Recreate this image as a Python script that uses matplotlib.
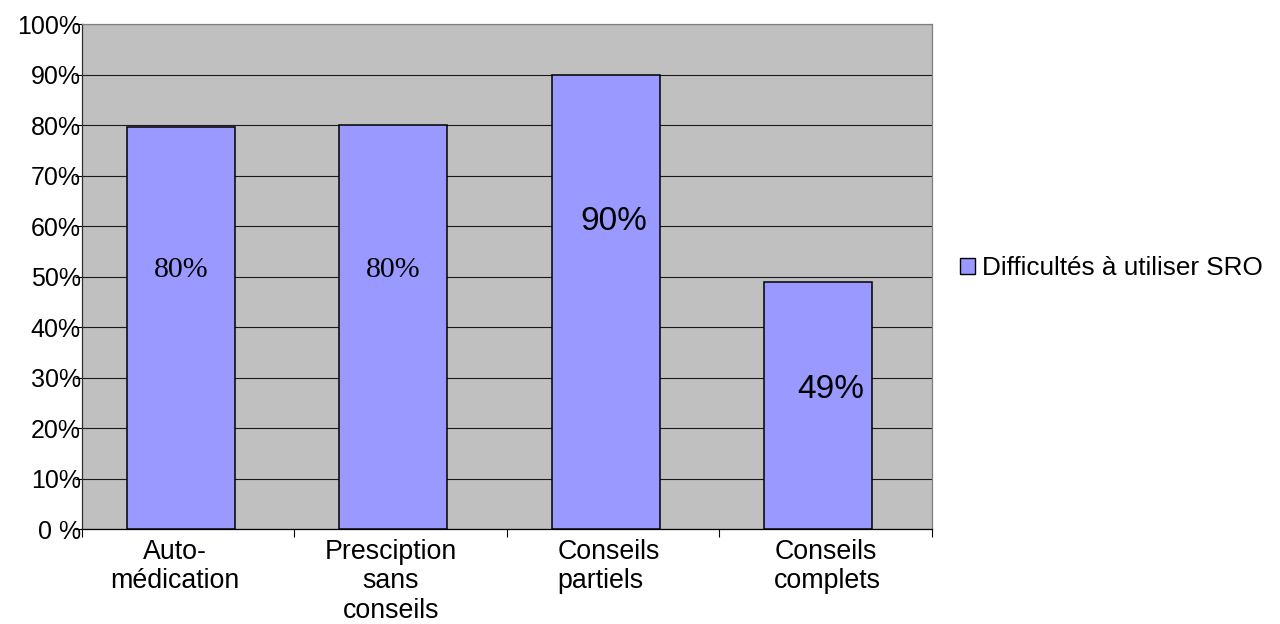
import numpy as np
import matplotlib
matplotlib.use("Agg")
import matplotlib.pyplot as plt
from matplotlib.patches import Patch


categories = ["Auto-\nmédication", "Presciption\nsans\nconseils", "Conseils\npartiels", "Conseils\ncomplets"]
values = [79.6, 80.0, 90.0, 49.0]
label_heights = [51.3, 51.3, 60.8, 27.7]
label_fonts = ["Liberation Serif", "Liberation Serif", "Liberation Sans", "Liberation Sans"]
label_offsets = [0.0, 0.0, 0.04, 0.06]
cat_offsets = [-0.063, -0.047, -0.02, 0.01]
cat_align = ["center", "center", "left", "left"]
series_name = "Difficultés à utiliser SRO"
y_ticks = np.arange(0, 101, 10)
y_tick_labels = ["0 %"] + [f"{t}%" for t in y_ticks[1:]]

BAR_COLOR = "#9999FF"
BG_COLOR = "#C0C0C0"

plt.rcParams["font.family"] = ["Liberation Sans", "DejaVu Sans"]

fig = plt.figure(figsize=(12.8, 6.24), dpi=100)
ax = fig.add_axes([0.0641, 0.1522, 0.6639, 0.8093])
ax.set_facecolor(BG_COLOR)

x = np.arange(len(categories))
bar_x = x - 0.035
ax.bar(bar_x, values, width=0.508, color=BAR_COLOR, edgecolor="black", linewidth=1.1, zorder=3)

for xi, v, h, fam, dx in zip(bar_x, values, label_heights, label_fonts, label_offsets):
    size = 21.5 if "Serif" in fam else 24
    ax.text(xi + dx, h, f"{round(v)}%", ha="center", va="center",
            fontsize=size, family=fam, color="black", zorder=4)

ax.set_xlim(-0.5, len(categories) - 0.5)
ax.set_ylim(0, 100)

ax.set_yticks(y_ticks)
ax.set_yticklabels(y_tick_labels)
ax.tick_params(axis="y", length=5, width=0.8, pad=-4, labelsize=18)
ax.yaxis.grid(True, color="#1a1a1a", linewidth=0.8, zorder=1)
ax.set_axisbelow(True)

ax.set_xticks(x + np.array(cat_offsets))
ax.set_xticklabels(categories, fontsize=19.3, linespacing=1.18)
for lbl, al in zip(ax.get_xticklabels(), cat_align):
    lbl.set_multialignment(al)
ax.set_xticks(np.arange(len(categories) + 1) - 0.5, minor=True)
ax.tick_params(axis="x", which="major", length=0, pad=7)
ax.tick_params(axis="x", which="minor", length=6, width=0.8)

ax.spines["left"].set_color("#303030")
ax.spines["bottom"].set_color("black")
ax.spines["top"].set_color("#808080")
ax.spines["right"].set_color("#808080")
for s in ax.spines.values():
    s.set_linewidth(0.9)

handle = Patch(facecolor=BAR_COLOR, edgecolor="black", linewidth=1.0)
fig.legend([handle], [series_name], loc="center left",
           bbox_to_anchor=(0.742, 0.5705), frameon=False, fontsize=18.8,
           handlelength=0.55, handleheight=0.55, handletextpad=0.3,
           borderaxespad=0)

fig.savefig("out.png", dpi=100)
